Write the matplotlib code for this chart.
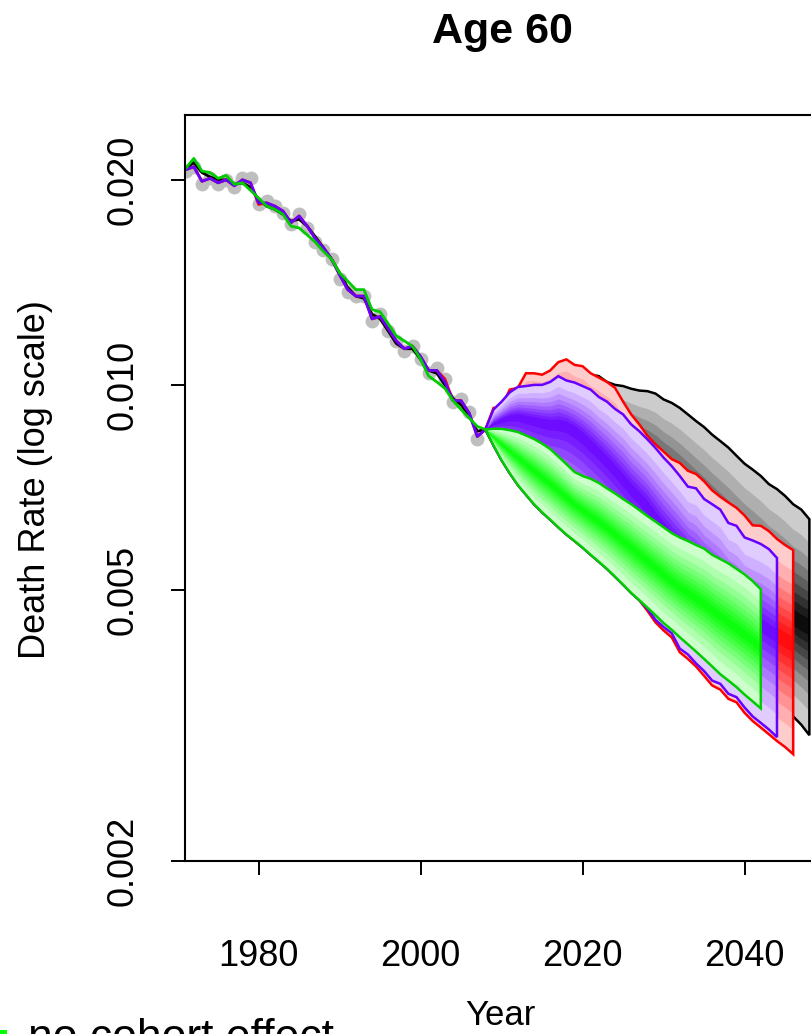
import numpy as np
import matplotlib
matplotlib.use('Agg')
import matplotlib.pyplot as plt
import matplotlib.colors as mcolors

plt.rcParams['font.family'] = ['Liberation Sans', 'DejaVu Sans']

# ---- observed and fitted history ----
hist_years = np.arange(1971, 2009)
obs_years = np.arange(1971, 2008)
obs = [0.0206, 0.0209, 0.0197, 0.0201, 0.0197, 0.0200, 0.0195, 0.0201, 0.0201, 0.0184,
       0.0186, 0.0183, 0.0179, 0.0172, 0.0178, 0.0170, 0.0162, 0.0158, 0.0153, 0.0143,
       0.0137, 0.0135, 0.0135, 0.0124, 0.0127, 0.0120, 0.0116, 0.0112, 0.0114, 0.0109,
       0.0104, 0.0106, 0.0102, 0.00945, 0.00955, 0.00912, 0.00832]
fit_black = [0.0208, 0.0212, 0.0205, 0.0202, 0.0200, 0.0200, 0.0197, 0.0198, 0.0195, 0.0187,
             0.0183, 0.0181, 0.0178, 0.0174, 0.0175, 0.0171, 0.0165, 0.0159, 0.0153, 0.0146,
             0.0139, 0.0135, 0.0134, 0.0127, 0.0125, 0.0120, 0.0115, 0.0113, 0.0113, 0.0109,
             0.0105, 0.0104, 0.0100, 0.00955, 0.00935, 0.00900, 0.00855, 0.00860]
fit_red = [0.0207, 0.0209, 0.0199, 0.0201, 0.0198, 0.0200, 0.0196, 0.0200, 0.0198, 0.0184,
           0.0185, 0.0183, 0.0180, 0.0173, 0.0177, 0.0171, 0.0164, 0.0159, 0.0153, 0.0145,
           0.0138, 0.0135, 0.0135, 0.0125, 0.0126, 0.0121, 0.0116, 0.0113, 0.0114, 0.0110,
           0.0105, 0.0105, 0.0102, 0.00948, 0.00948, 0.00909, 0.00840, 0.00860]
fit_blue = [0.0207, 0.0209, 0.0199, 0.0201, 0.0198, 0.0200, 0.0196, 0.0200, 0.0198, 0.0185,
            0.0185, 0.0183, 0.0180, 0.0173, 0.0177, 0.0171, 0.0164, 0.0159, 0.0153, 0.0145,
            0.0138, 0.0135, 0.0135, 0.0125, 0.0126, 0.0121, 0.0116, 0.0113, 0.0114, 0.0110,
            0.0105, 0.0105, 0.0101, 0.00948, 0.00948, 0.00909, 0.00840, 0.00860]
fit_green = [0.0208, 0.0215, 0.0206, 0.0205, 0.0201, 0.0203, 0.0197, 0.0198, 0.0193, 0.0188,
             0.0183, 0.0181, 0.0178, 0.0171, 0.0170, 0.0166, 0.0162, 0.0157, 0.0153, 0.0146,
             0.0142, 0.0138, 0.0138, 0.0129, 0.0128, 0.0123, 0.0118, 0.0116, 0.0114, 0.0109,
             0.0103, 0.0101, 0.00988, 0.00948, 0.00920, 0.00894, 0.00869, 0.00860]

# ---- forecast fans (lower bound, median, upper bound) ----
black_years = np.arange(2008, 2049)
black_hi = [0.00860, 0.00915, 0.00920, 0.00975, 0.00985, 0.01030, 0.01035, 0.01030, 0.01045, 0.01070,
            0.01080, 0.01065, 0.01055, 0.01035, 0.01030, 0.01010, 0.01000, 0.00996, 0.00987, 0.00981,
            0.00979, 0.00971, 0.00952, 0.00941, 0.00925, 0.00905, 0.00885, 0.00867, 0.00845, 0.00827,
            0.00809, 0.00787, 0.00766, 0.00751, 0.00735, 0.00715, 0.00703, 0.00687, 0.00668, 0.00656,
            0.00635]
black_med = [0.00860, 0.00885, 0.00900, 0.00912, 0.00920, 0.00925, 0.00926, 0.00925, 0.00922, 0.00918,
             0.00912, 0.00903, 0.00892, 0.00878, 0.00862, 0.00845, 0.00827, 0.00808, 0.00789, 0.00769,
             0.00749, 0.00729, 0.00709, 0.00689, 0.00669, 0.00650, 0.00631, 0.00613, 0.00595, 0.00578,
             0.00561, 0.00545, 0.00530, 0.00515, 0.00501, 0.00488, 0.00476, 0.00465, 0.00455, 0.00447,
             0.00442]
black_lo = [0.00860, 0.00818, 0.00782, 0.00752, 0.00726, 0.00703, 0.00683, 0.00665, 0.00648, 0.00632,
            0.00617, 0.00603, 0.00590, 0.00576, 0.00563, 0.00550, 0.00537, 0.00524, 0.00511, 0.00498,
            0.00486, 0.00474, 0.00462, 0.00451, 0.00440, 0.00429, 0.00419, 0.00409, 0.00399, 0.00389,
            0.00380, 0.00371, 0.00362, 0.00354, 0.00346, 0.00339, 0.00334, 0.00330, 0.00326, 0.00317,
            0.00306]

red_years = np.arange(2008, 2047)
red_hi = [0.00860, 0.00925, 0.00928, 0.00984, 0.00990, 0.01040, 0.01040, 0.01035, 0.01050, 0.01080,
          0.01090, 0.01070, 0.01065, 0.01040, 0.01025, 0.01010, 0.00990, 0.00945, 0.00905, 0.00875,
          0.00842, 0.00818, 0.00798, 0.00778, 0.00768, 0.00748, 0.00740, 0.00722, 0.00700, 0.00685,
          0.00672, 0.00660, 0.00643, 0.00622, 0.00621, 0.00610, 0.00594, 0.00582, 0.00572]
red_med = [0.00860, 0.00890, 0.00905, 0.00918, 0.00925, 0.00928, 0.00928, 0.00925, 0.00922, 0.00920,
           0.00915, 0.00900, 0.00880, 0.00858, 0.00835, 0.00810, 0.00785, 0.00760, 0.00735, 0.00712,
           0.00690, 0.00668, 0.00645, 0.00624, 0.00604, 0.00585, 0.00566, 0.00549, 0.00532, 0.00516,
           0.00500, 0.00486, 0.00472, 0.00460, 0.00449, 0.00439, 0.00430, 0.00423, 0.00417]
red_lo = [0.00860, 0.00815, 0.00775, 0.00742, 0.00713, 0.00690, 0.00668, 0.00650, 0.00634, 0.00618,
          0.00603, 0.00590, 0.00577, 0.00563, 0.00550, 0.00537, 0.00523, 0.00509, 0.00495, 0.00483,
          0.00466, 0.00448, 0.00436, 0.00426, 0.00405, 0.00396, 0.00386, 0.00374, 0.00362, 0.00357,
          0.00346, 0.00342, 0.00330, 0.00321, 0.00314, 0.00307, 0.00300, 0.00294, 0.00287]

blue_years = np.arange(2008, 2045)
blue_hi = [0.00860, 0.00920, 0.00945, 0.00975, 0.00993, 0.00996, 0.01000, 0.01000, 0.01010, 0.01030,
           0.01015, 0.01008, 0.00996, 0.00984, 0.00960, 0.00945, 0.00922, 0.00905, 0.00875, 0.00855,
           0.00832, 0.00808, 0.00782, 0.00760, 0.00735, 0.00709, 0.00705, 0.00680, 0.00668, 0.00656,
           0.00627, 0.00621, 0.00597, 0.00591, 0.00584, 0.00574, 0.00557]
blue_med = [0.00860, 0.00878, 0.00890, 0.00898, 0.00900, 0.00895, 0.00890, 0.00885, 0.00880, 0.00880,
            0.00875, 0.00860, 0.00842, 0.00820, 0.00798, 0.00775, 0.00752, 0.00728, 0.00705, 0.00685,
            0.00665, 0.00640, 0.00618, 0.00598, 0.00580, 0.00562, 0.00546, 0.00530, 0.00515, 0.00500,
            0.00487, 0.00474, 0.00462, 0.00452, 0.00445, 0.00437, 0.00430]
blue_lo = [0.00860, 0.00815, 0.00775, 0.00742, 0.00713, 0.00690, 0.00668, 0.00650, 0.00634, 0.00618,
           0.00603, 0.00590, 0.00577, 0.00563, 0.00550, 0.00537, 0.00523, 0.00509, 0.00495, 0.00483,
           0.00469, 0.00452, 0.00441, 0.00432, 0.00410, 0.00402, 0.00390, 0.00380, 0.00368, 0.00364,
           0.00352, 0.00348, 0.00336, 0.00326, 0.00319, 0.00312, 0.00304]

green_years = np.arange(2008, 2043)
green_hi = [0.00860, 0.00862, 0.00862, 0.00858, 0.00853, 0.00843, 0.00833, 0.00820, 0.00805, 0.00785,
            0.00765, 0.00745, 0.00735, 0.00728, 0.00718, 0.00705, 0.00693, 0.00680, 0.00668, 0.00655,
            0.00642, 0.00630, 0.00618, 0.00606, 0.00597, 0.00590, 0.00582, 0.00575, 0.00563, 0.00555,
            0.00547, 0.00537, 0.00527, 0.00515, 0.00501]
green_med = [0.00860, 0.00838, 0.00818, 0.00800, 0.00782, 0.00765, 0.00748, 0.00732, 0.00716, 0.00700,
             0.00684, 0.00668, 0.00655, 0.00642, 0.00630, 0.00617, 0.00603, 0.00590, 0.00577, 0.00564,
             0.00551, 0.00539, 0.00527, 0.00515, 0.00504, 0.00495, 0.00486, 0.00477, 0.00467, 0.00457,
             0.00448, 0.00439, 0.00430, 0.00421, 0.00410]
green_lo = [0.00860, 0.00815, 0.00775, 0.00742, 0.00713, 0.00690, 0.00668, 0.00650, 0.00634, 0.00618,
            0.00603, 0.00590, 0.00577, 0.00563, 0.00550, 0.00537, 0.00523, 0.00509, 0.00495, 0.00483,
            0.00471, 0.00459, 0.00447, 0.00437, 0.00426, 0.00416, 0.00406, 0.00396, 0.00386, 0.00376,
            0.00368, 0.00360, 0.00351, 0.00343, 0.00335]

x_ticks = [1980, 2000, 2020, 2040]
y_ticks = [0.002, 0.005, 0.010, 0.020]
y_tick_labels = ['0.002', '0.005', '0.010', '0.020']

C_BLACK = '#000000'
C_RED = '#FF0000'
C_BLUE = '#6600FF'
C_GREEN = '#00FF00'
C_GREEN_LINE = '#00CC00'

# normal quantiles of the 55%..95% fan levels, used for band spacing
Z = np.array([0.1257, 0.2533, 0.3853, 0.5244, 0.6745, 0.8416, 1.0364, 1.2816, 1.6449])


def draw_fan(ax, years, lo, med, hi, color, edge, z0):
    lo = np.asarray(lo)
    med = np.asarray(med)
    hi = np.asarray(hi)
    base = np.array(mcolors.to_rgb(color))
    nb = len(Z)
    for k in range(nb, 0, -1):
        f = Z[k - 1] / Z[-1]
        top = med * (hi / med) ** f
        bot = med * (lo / med) ** f
        c = base + (1 - base) * 0.8 * (k / nb) ** 1.3
        ax.fill_between(years, bot, top, color=c, lw=0, zorder=z0)
    xs = np.r_[years, years[::-1], years[:1]]
    ys = np.r_[hi, lo[::-1], hi[:1]]
    ax.plot(xs, ys, color=edge, lw=1.8, solid_joinstyle='miter', zorder=z0 + 0.5)


fig = plt.figure(figsize=(8.12, 10.34), dpi=100)
ax = fig.add_axes([185 / 812, (1034 - 861) / 1034, (817 - 185) / 812, (861 - 115) / 1034])
ax.set_yscale('log')

ax.plot(obs_years, obs, 'o', color='#BEBEBE', ms=10, mec='none', zorder=2)
ax.plot(hist_years, fit_black, color=C_BLACK, lw=2, zorder=3)
ax.plot(hist_years, fit_red, color=C_RED, lw=2, zorder=3)
ax.plot(hist_years, fit_blue, color=C_BLUE, lw=2, zorder=3)
ax.plot(hist_years, fit_green, color=C_GREEN_LINE, lw=2, zorder=3)

draw_fan(ax, black_years, black_lo, black_med, black_hi, C_BLACK, C_BLACK, 4)
draw_fan(ax, red_years, red_lo, red_med, red_hi, C_RED, C_RED, 5)
draw_fan(ax, blue_years, blue_lo, blue_med, blue_hi, C_BLUE, C_BLUE, 6)
draw_fan(ax, green_years, green_lo, green_med, green_hi, C_GREEN, C_GREEN_LINE, 7)

ax.set_xlim(1970.91, 2048.94)
ax.set_ylim(0.002, 0.0249)
ax.minorticks_off()
ax.set_xticks(x_ticks)
ax.set_xticklabels([str(t) for t in x_ticks])
ax.set_yticks(y_ticks)
ax.set_yticklabels(y_tick_labels, rotation=90, va='center')
ax.tick_params(axis='both', length=10, width=1.4, labelsize=26)
ax.tick_params(axis='x', pad=46)
ax.tick_params(axis='y', pad=22)
for s in ax.spines.values():
    s.set_linewidth(1.5)
    s.set_zorder(10)

fig.text(502 / 812, 1 - 43.3 / 1034, 'Age 60', ha='center', va='baseline',
         fontsize=31, fontweight='bold')
fig.text(36 / 812, 1 - 480 / 1034, 'Death Rate (log scale)', rotation=90,
         ha='center', va='center', fontsize=26)
fig.text(500 / 812, 1 - 1025 / 1034, 'Year', ha='center', va='baseline', fontsize=25)

# legend remnant at the bottom-left
fig.text(28 / 812, 1 - 1050 / 1034, 'no cohort effect', ha='left', va='baseline', fontsize=32)
fig.patches.append(plt.Rectangle((-7 / 812, 1 - 1045 / 1034), 14 / 812, 15 / 1034,
                                 transform=fig.transFigure, color=C_GREEN, lw=0))

fig.savefig('out.png', dpi=100)
